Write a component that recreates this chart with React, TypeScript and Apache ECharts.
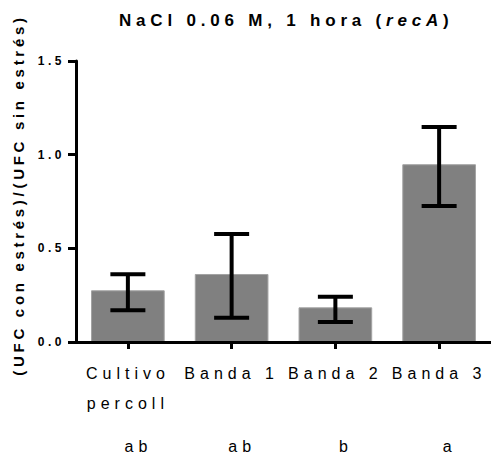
import React, { useEffect, useRef } from "react";
import * as echarts from "echarts";

const categories = ["Cultivo\npercoll", "Banda 1", "Banda 2", "Banda 3"];
const meanValues = [0.276, 0.363, 0.185, 0.949];
const lowerValues = [0.169, 0.13, 0.107, 0.726];
const upperValues = [0.361, 0.577, 0.242, 1.148];
const groupLetters = ["ab", "ab", "b", "a"];
const yMin = 0;
const yMax = 1.5;
const yInterval = 0.5;
const titleParts = ["NaCl 0.06 M, 1 hora (", "recA", ")"];
const yAxisTitle = "(UFC con estrés)/(UFC sin estrés)";

const FONT = '"Liberation Sans", Arial, Helvetica, sans-serif';
// letter spacing per font size (px)
const SPACING: Record<string, number> = { "17": 4.8, "15": 3.7, "12": 3.5, "16": 5 };

function measure(text: string, font: string, ls: number): number {
  const ctx = document.createElement("canvas").getContext("2d");
  if (!ctx) return text.length * 10;
  ctx.font = font;
  return ctx.measureText(text).width + ls * text.length;
}

export default function App() {
  const ref = useRef<HTMLDivElement>(null);

  useEffect(() => {
    const el = ref.current;
    if (!el) return;
    const chart = echarts.init(el, undefined, { renderer: "svg" });

    const tls = SPACING["17"];
    const titleX0 = 119;
    const w1 = measure(titleParts[0], `bold 17px ${FONT}`, tls);
    const w2 = measure(titleParts[1], `italic bold 17px ${FONT}`, tls);
    const titleXs = [titleX0, titleX0 + w1, titleX0 + w1 + w2];

    const titleStyle = (text: string, italic: boolean) => ({
      text,
      fontSize: 17,
      fontWeight: "bold",
      fontStyle: italic ? "italic" : "normal",
      fontFamily: FONT,
      fill: "#000",
      align: "left",
      verticalAlign: "middle",
      textAlign: "left",
      textVerticalAlign: "middle",
    });

    const option: any = {
      animation: false,
      backgroundColor: "#fff",
      grid: { left: 76, top: 61, width: 418, bottom: 457 - 342, containLabel: false },
      graphic: titleParts.map((p, i) => ({
        type: "text",
        x: titleXs[i],
        y: 20,
        style: titleStyle(p, i === 1),
      })),
      xAxis: [
        {
          type: "category",
          data: categories,
          position: "bottom",
          z: 5,
          axisLine: { show: true, lineStyle: { color: "#000", width: 3 } },
          axisTick: { show: true, alignWithLabel: true, length: 7, lineStyle: { color: "#000", width: 3 } },
          axisLabel: {
            interval: 0,
            fontSize: 16,
            fontFamily: FONT,
            color: "#000",
            lineHeight: 30,
            margin: 16,
          },
        },
        {
          type: "category",
          data: groupLetters,
          position: "bottom",
          offset: 86,
          axisLine: { show: false },
          axisTick: { show: false },
          axisLabel: {
            interval: 0,
            fontSize: 16,
            fontFamily: FONT,
            color: "#000",
            lineHeight: 20,
            margin: 8,
            padding: [0, 0, 0, 21],
          },
        },
      ],
      yAxis: {
        type: "value",
        min: yMin,
        max: yMax,
        interval: yInterval,
        z: 5,
        name: yAxisTitle,
        nameLocation: "middle",
        nameRotate: 90,
        nameGap: 50,
        nameTextStyle: {
          fontSize: 15,
          fontWeight: "bold",
          fontFamily: FONT,
          color: "#000",
          padding: [0, 0, 0, 13],
        },
        axisLine: { show: true, lineStyle: { color: "#000", width: 3 } },
        axisTick: { show: true, length: 8, lineStyle: { color: "#000", width: 3 } },
        splitLine: { show: false },
        axisLabel: {
          fontSize: 12,
          fontWeight: "bold",
          fontFamily: FONT,
          color: "#000",
          margin: 11,
          formatter: (v: number) => v.toFixed(1),
        },
      },
      series: [
        {
          type: "bar",
          xAxisIndex: 0,
          data: meanValues,
          barWidth: "71%",
          z: 2,
          itemStyle: { color: "#808080", borderColor: "#a3a3a3", borderWidth: 1 },
        },
        {
          type: "custom",
          xAxisIndex: 0,
          z: 4,
          data: categories.map((_, i) => [i, lowerValues[i], upperValues[i]]),
          encode: { x: 0, y: [1, 2] },
          renderItem: (_params: any, api: any) => {
            const x = api.value(0);
            const pLo = api.coord([x, api.value(1)]);
            const pHi = api.coord([x, api.value(2)]);
            const half = 17.5;
            const style = { stroke: "#000", lineWidth: 4 };
            return {
              type: "group",
              children: [
                { type: "line", shape: { x1: pHi[0], y1: pHi[1], x2: pLo[0], y2: pLo[1] }, style },
                { type: "line", shape: { x1: pHi[0] - half, y1: pHi[1], x2: pHi[0] + half, y2: pHi[1] }, style },
                { type: "line", shape: { x1: pLo[0] - half, y1: pLo[1], x2: pLo[0] + half, y2: pLo[1] }, style },
              ],
            };
          },
        },
      ],
    };

    chart.setOption(option);

    const applySpacing = () => {
      el.querySelectorAll("text").forEach((t) => {
        const s = t.getAttribute("style") || "";
        const m = s.match(/(\d+(?:\.\d+)?)px/);
        if (m && SPACING[m[1]] != null) t.setAttribute("letter-spacing", SPACING[m[1]] + "px");
      });
    };
    applySpacing();
    chart.on("finished", applySpacing);

    return () => {
      chart.dispose();
    };
  }, []);

  return (
    <div
      ref={ref}
      style={{ position: "fixed", left: 0, top: 0, width: 491, height: 457, background: "#fff" }}
    />
  );
}
